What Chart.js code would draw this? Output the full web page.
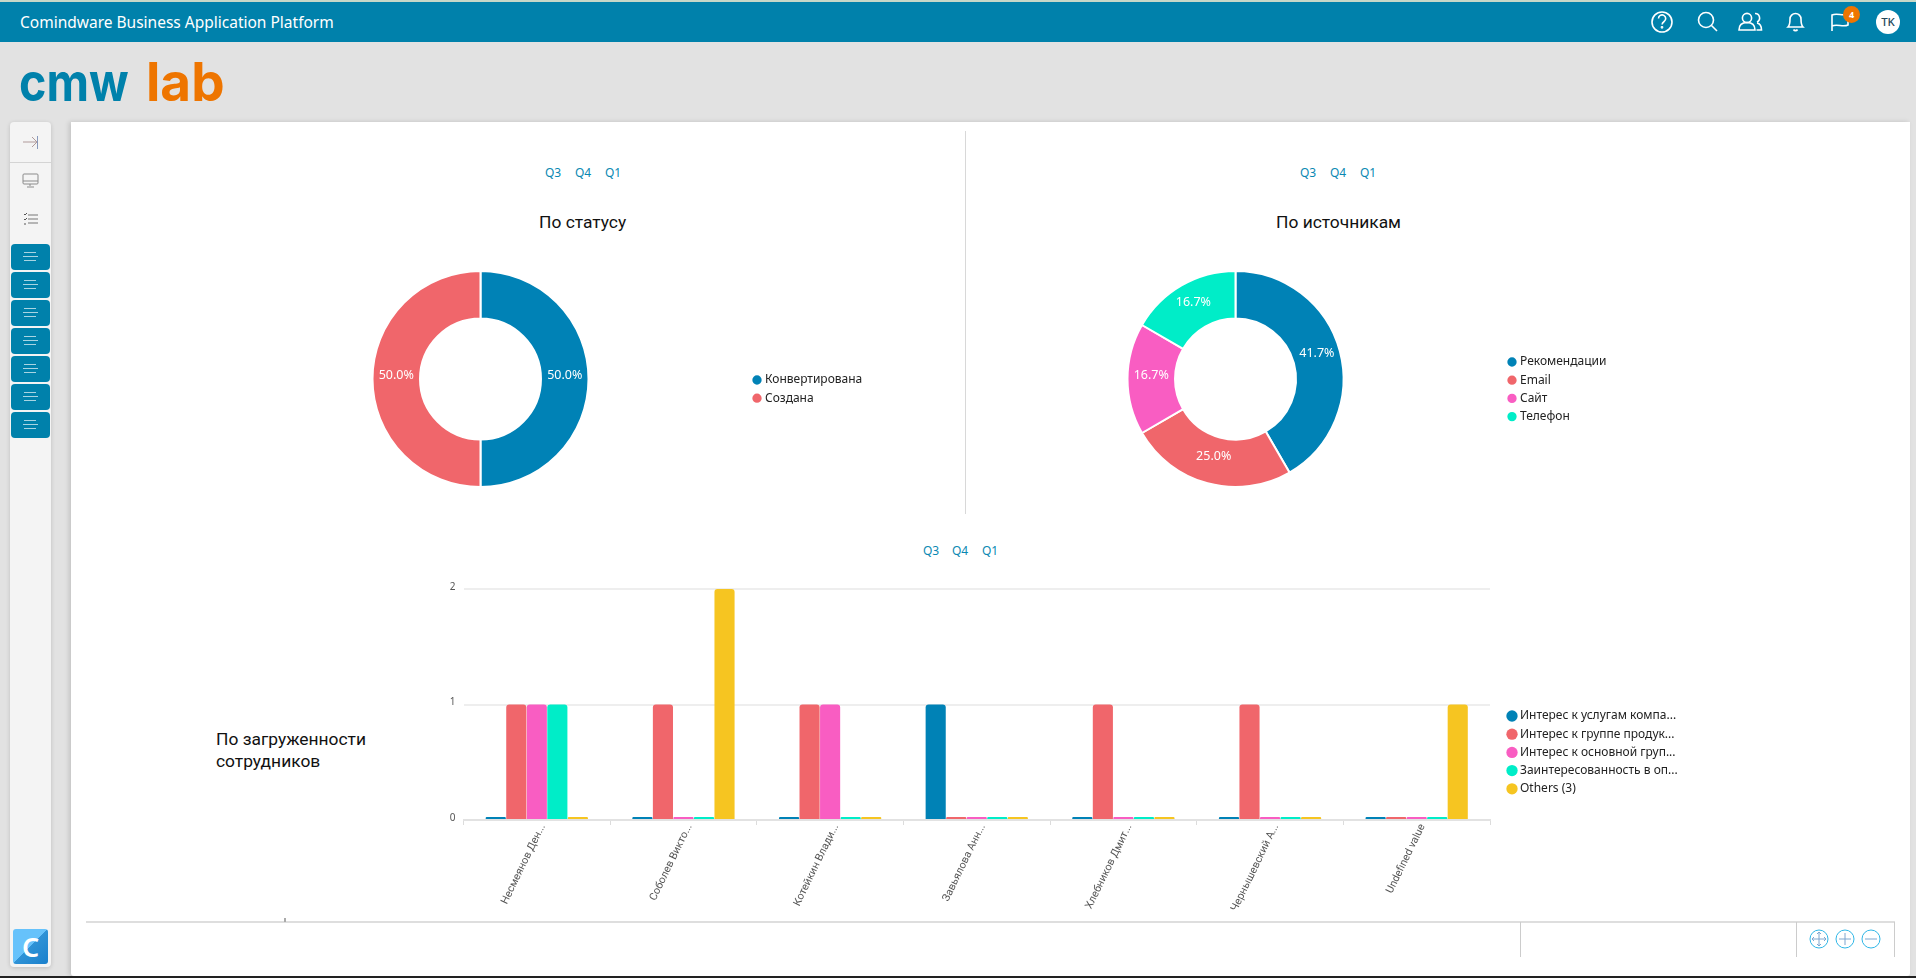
<!DOCTYPE html>
<html lang="ru">
<head>
<meta charset="utf-8">
<title>Comindware Business Application Platform</title>
<script src="https://cdn.jsdelivr.net/npm/chart.js@4.4.0/dist/chart.umd.js"></script>
<style>
    html, body { margin: 0; padding: 0; width: 1916px; height: 978px; overflow: hidden; background: #e2e2e2; font-family: "Noto Sans", sans-serif; }
    .abs { position: absolute; }
    canvas { position: absolute; display: block; }
    #strip { left: 0; top: 0; width: 1916px; height: 2px; background: #c6d8c8; }
    #topbar { left: 0; top: 2px; width: 1916px; height: 40px; background: #0081ab; }
    #app-title { left: 20px; top: 13px; color: #fff; font-size: 15.5px; line-height: 18px; white-space: nowrap; }
    .logo { position: absolute; top: 52px; font-family: Inter, sans-serif; font-weight: 700; font-size: 53px; line-height: 60px; white-space: nowrap; transform-origin: 0 0; }
    #logo-cmw { left: 19px; color: #0081ab; transform: scaleX(0.88); }
    #logo-lab { left: 146px; color: #ee7500; }
    #sidebar { left: 10px; top: 122px; width: 41px; height: 845px; background: #f4f4f4; border-radius: 4px; box-shadow: 0 1px 4px rgba(0,0,0,.16); }
    #side-div { left: 10px; top: 162px; width: 41px; height: 1px; background: #d4d4d4; }
    .side-btn { position: absolute; left: 11px; width: 39px; height: 26px; background: #0081ab; border-radius: 4px; }
    .side-btn i { position: absolute; height: 1px; background: #a8d4e2; }
    #c-logo { left: 13px; top: 929px; width: 35px; height: 35px; border-radius: 3px; color: #fff; font-size: 27px; font-weight: 600; line-height: 35px; text-align: center; background: linear-gradient(135deg, #66c2fb 0%, #66c2fb 50%, #2f92d6 50%, #1a80cc 100%); }
    #panel { left: 71px; top: 122px; width: 1839px; height: 854px; background: #fff; box-shadow: -2px 0 5px rgba(0,0,0,.14); border-radius: 0 0 3px 3px; }
    #bottom-edge { left: 0; top: 976px; width: 1916px; height: 2px; background: #222; }
    .q { position: absolute; color: #0a88b2; font-size: 12px; line-height: 16px; white-space: nowrap; }
    .title { position: absolute; color: #111; font-family: Roboto, sans-serif; font-size: 17.4px; line-height: 22px; white-space: nowrap; }
    .line { position: absolute; background: #d8d8d8; }
    #avatar { left: 1876px; top: 10px; width: 24px; height: 24px; border-radius: 50%; background: #fff; color: #24475a; font-size: 11.5px; font-weight: 500; line-height: 24px; text-align: center; }
    #badge { left: 1843px; top: 6px; width: 17px; height: 17px; border-radius: 50%; background: #ee7500; color: #fff; font-size: 9px; font-weight: 700; line-height: 17px; text-align: center; }
    svg { position: absolute; overflow: visible; }
</style>
</head>
<body>
<div class="abs" id="strip"></div>
<div class="abs" id="topbar"></div>
<div class="abs" id="app-title">Comindware Business Application Platform</div>

<svg style="left:0;top:0" width="1916" height="44" fill="none" stroke="#fff" stroke-width="1.6">
    <circle cx="1662" cy="22" r="10"/>
    <path d="M1658.5 18.5a3.6 3.6 0 1 1 5.6 3c-1.3.9-2 1.6-2 3"/><circle cx="1662" cy="27.3" r=".6"/>
    <circle cx="1706" cy="20" r="7.5"/><path d="M1711.5 25.5l5.5 5.5"/>
    <circle cx="1747" cy="18" r="4.6"/><path d="M1739 30c0-5.5 3.5-7.5 8-7.5s8 2 8 7.5z"/>
    <path d="M1755 13.5a4.4 4.4 0 0 1 2 8.4M1757 23c3 .6 4.5 3 4.5 7h-5"/>
    <path d="M1788 27c2-2 2-4 2-8a5.5 5.5 0 0 1 11 0c0 4 0 6 2 8z"/><path d="M1793.5 29.5a2.3 2.3 0 0 0 4 0"/>
    <path d="M1832 31V15c5-2.5 11 1.500 16-1v11c-5 2.500-11-1.500-16 1"/>
</svg>
<div class="abs" id="badge">4</div>
<div class="abs" id="avatar">TK</div>

<div class="logo" id="logo-cmw">cmw</div>
<div class="logo" id="logo-lab">lab</div>

<div class="abs" id="sidebar"></div>
<div class="abs" id="side-div"></div>
<svg style="left:0;top:122px" width="60" height="110" fill="none" stroke="#8b8b8b" stroke-width="1">
    <path d="M23 20h14M32 15l5 5-5 5" stroke="#b09a9a"/><path d="M37.500 14v13" stroke="#8899bb"/>
    <rect x="23" y="52" width="15" height="10" rx="1"/><path d="M23 59h15M30 62v2M27 65h7"/>
    <path d="M28 93h10M28 97h10M28 101h10" stroke="#777" stroke-width="1.200"/>
    <path d="M24 92l1 1 2-2M24 97l1 1 2-2M24 102h2" stroke="#555"/>
</svg>
<div id="side-buttons"></div>
<div class="abs" id="c-logo">C</div>

<div class="abs" id="panel"></div>
<div class="line" style="left:965px;top:131px;width:1px;height:383px"></div>

<div class="q" style="left:545px;top:165px">Q3</div>
<div class="q" style="left:575px;top:165px">Q4</div>
<div class="q" style="left:605px;top:165px">Q1</div>
<div class="q" style="left:1300px;top:165px">Q3</div>
<div class="q" style="left:1330px;top:165px">Q4</div>
<div class="q" style="left:1360px;top:165px">Q1</div>
<div class="q" style="left:923px;top:543px">Q3</div>
<div class="q" style="left:952px;top:543px">Q4</div>
<div class="q" style="left:982px;top:543px">Q1</div>

<div class="title" style="left:539px;top:211px">По статусу</div>
<div class="title" style="left:1276px;top:211px">По источникам</div>
<div class="title" style="left:216px;top:728px">По загруженности<br>сотрудников</div>

<canvas id="status-chart" width="781" height="258" style="left:90px;top:250px"></canvas>
<canvas id="source-chart" width="781" height="258" style="left:845px;top:250px"></canvas>
<canvas id="load-chart" width="1320" height="338" style="left:380px;top:575px"></canvas>

<div class="line" style="left:86px;top:921px;width:1809px;height:2px;background:#dedede"></div>
<div class="line" style="left:284px;top:918px;width:2px;height:4px;background:#aaa"></div>
<div class="line" style="left:1520px;top:922px;width:1px;height:35px;background:#ccc"></div>
<div class="line" style="left:1796px;top:922px;width:1px;height:35px;background:#ccc"></div>
<div class="line" style="left:1894px;top:922px;width:1px;height:35px;background:#ccc"></div>
<svg style="left:0;top:0" width="1916" height="978" fill="none" stroke-width="1">
    <g stroke="#2fb6e6"><circle cx="1819" cy="939" r="9"/><circle cx="1845" cy="939" r="9"/><circle cx="1871" cy="939" r="9"/></g>
    <g stroke="#7ea6cf">
        <path d="M1819 932v14M1812 939h14M1817 934l2-2 2 2M1817 944l2 2 2-2M1814 937l-2 2 2 2M1824 937l2 2-2 2"/>
        <path d="M1845 933v12M1839 939h12"/>
        <path d="M1865 939h12"/>
    </g>
</svg>
<div class="abs" id="bottom-edge"></div>

<script>
// Chart data
const statusLabels = ['Конвертирована', 'Создана'];
const statusValues = [6, 6];

const sourceLabels = ['Рекомендации', 'Email', 'Сайт', 'Телефон'];
const sourceValues = [5, 3, 2, 2];

const employees = ['Несмеянов Ден...', 'Соболев Викто...', 'Котейкин Влади...', 'Завьялова Анн...', 'Хлебников Дмит...', 'Чернышевский А...', 'Undefined value'];
const interestServices = [0, 0, 0, 1, 0, 0, 0];
const interestProductGroup = [1, 1, 1, 0, 1, 1, 0];
const interestMainGroup = [1, 0, 1, 0, 0, 0, 0];
const interestExperience = [1, 0, 0, 0, 0, 0, 0];
const othersValues = [0, 2, 0, 0, 0, 0, 1];

const seriesNames = ['Интерес к услугам компа...', 'Интерес к группе продук...', 'Интерес к основной груп...', 'Заинтересованность в оп...', 'Others (3)'];
const yTicks = [0, 1, 2];

const palette = ['#0082b6', '#f0666b', '#f95dc2', '#00edc8', '#f6c521'];

// Sidebar buttons
const sideButtons = document.getElementById('side-buttons');
for (let i = 0; i < 7; i++) {
    const btn = document.createElement('div');
    btn.className = 'side-btn';
    btn.style.top = (244 + i * 28) + 'px';
    btn.innerHTML = '<i style="left:13px;top:8px;width:12px"></i><i style="left:12px;top:12px;width:15px"></i><i style="left:13px;top:16px;width:12px"></i>';
    sideButtons.appendChild(btn);
}

Chart.defaults.font.family = '"Noto Sans", sans-serif';
Chart.defaults.animation = false;

// Moves the legend to where the page wants it, the library only places it at edges
const legendPlacer = {
    id: 'legendPlacer',
    afterLayout(chart, args, opts) {
        const legend = chart.legend;
        const padding = legend.options.labels.padding;
        legend.left = opts.dotX - 2 - padding;
        legend.right = chart.width;
        legend.top = opts.firstRowY - padding - 6;
        legend.bottom = chart.height;
    }
};

// Percent labels on the doughnut slices
const sliceLabels = {
    id: 'sliceLabels',
    afterDatasetsDraw(chart) {
        const { ctx } = chart;
        const values = chart.data.datasets[0].data;
        const total = values.reduce((a, b) => a + b, 0);
        ctx.save();
        ctx.fillStyle = '#fff';
        ctx.font = '12.5px "Noto Sans"';
        ctx.textAlign = 'center';
        ctx.textBaseline = 'middle';
        chart.getDatasetMeta(0).data.forEach((arc, i) => {
            const p = arc.getCenterPoint();
            ctx.fillText((values[i] / total * 100).toFixed(1) + '%', p.x, p.y - 4);
        });
        ctx.restore();
    }
};

function legendOptions(dotX, firstRowY) {
    return {
        legend: {
            position: 'chartArea',
            align: 'start',
            labels: { usePointStyle: true, pointStyle: 'circle', boxWidth: 4, boxHeight: 8, padding: 6.2, color: '#222', font: { size: 12 } }
        },
        tooltip: { enabled: false },
        legendPlacer: { dotX, firstRowY }
    };
}

function makeDoughnut(id, labels, values, dotX, firstRowY) {
    return new Chart(document.getElementById(id), {
        type: 'doughnut',
        data: {
            labels,
            datasets: [{ data: values, backgroundColor: palette.slice(0, values.length), borderColor: '#fff', borderWidth: 2 }]
        },
        options: {
            responsive: false,
            radius: 108,
            cutout: '56%',
            plugins: legendOptions(dotX, firstRowY)
        },
        plugins: [legendPlacer, sliceLabels]
    });
}

makeDoughnut('status-chart', statusLabels, statusValues, 757 - 90, 380 - 250);
makeDoughnut('source-chart', sourceLabels, sourceValues, 1512 - 845, 362 - 250);

// Employees load
const seriesValues = [interestServices, interestProductGroup, interestMainGroup, interestExperience, othersValues];
new Chart(document.getElementById('load-chart'), {
    type: 'bar',
    data: {
        labels: employees,
        datasets: seriesNames.map((name, i) => ({
            label: name,
            data: seriesValues[i],
            backgroundColor: palette[i],
            borderRadius: { topLeft: 3, topRight: 3 },
            minBarLength: 3,
            categoryPercentage: 0.7,
            barPercentage: 0.98
        }))
    },
    options: {
        responsive: false,
        layout: { autoPadding: false, padding: { top: 14, right: 210, left: 0, bottom: 0 } },
        plugins: legendOptions(1512 - 380, 716 - 575),
        scales: {
            x: {
                afterFit(scale) { scale.height = 93; },
                grid: { drawOnChartArea: false, tickLength: 5, tickColor: '#dcdcdc' },
                border: { color: '#e2e2e2', width: 2 },
                ticks: { autoSkip: false, minRotation: 64, maxRotation: 64, padding: -3, labelOffset: 6, color: '#555', font: { family: 'Roboto', size: 10.7 } }
            },
            y: {
                min: 0,
                max: yTicks[yTicks.length - 1],
                afterFit(scale) { scale.width = 83.5; },
                afterBuildTicks(scale) { scale.ticks = yTicks.map(value => ({ value })); },
                grid: { color: '#eeeeee', lineWidth: 2, drawTicks: false },
                border: { display: false },
                ticks: { padding: 8, color: '#555', labelOffset: -2, font: { size: 10 } }
            }
        }
    },
    plugins: [legendPlacer]
});
</script>
</body>
</html>
